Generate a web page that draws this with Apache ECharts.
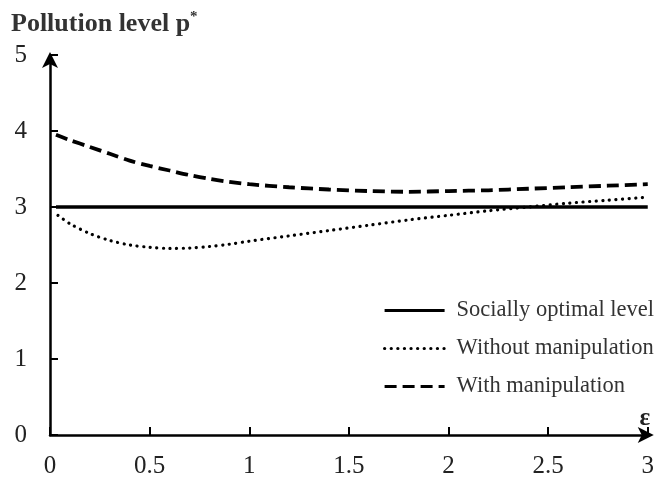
<!DOCTYPE html>
<html>
<head>
<meta charset="utf-8">
<script src="https://cdn.jsdelivr.net/npm/echarts@6/dist/echarts.min.js"></script>
<style>html,body{margin:0;padding:0;background:#fff}#c{width:657px;height:480px}</style>
</head>
<body>
<div id="c"></div>
<script>
var xOptimal = [0.03, 3];
var yOptimal = [3, 3];
var xWithout = [0.04, 0.1, 0.2, 0.3, 0.4, 0.5, 0.6, 0.7, 0.8, 0.9, 1.0, 1.2, 1.4, 1.6, 1.8, 2.0, 2.2, 2.4, 2.6, 2.8, 3.0];
var yWithout = [2.89, 2.78, 2.65, 2.56, 2.50, 2.47, 2.455, 2.46, 2.48, 2.51, 2.55, 2.62, 2.69, 2.76, 2.83, 2.89, 2.95, 3.00, 3.05, 3.09, 3.13];
var xWith = [0.03, 0.1, 0.2, 0.3, 0.4, 0.5, 0.6, 0.7, 0.8, 0.9, 1.0, 1.2, 1.4, 1.6, 1.8, 2.0, 2.2, 2.4, 2.6, 2.8, 3.0];
var yWith = [3.95, 3.88, 3.79, 3.70, 3.61, 3.54, 3.48, 3.42, 3.37, 3.33, 3.30, 3.26, 3.23, 3.21, 3.20, 3.21, 3.22, 3.24, 3.26, 3.28, 3.30];
var names = ['Socially optimal level', 'Without manipulation', 'With manipulation'];

function pairs(xs, ys) { return xs.map(function (x, i) { return [x, ys[i]]; }); }

var font = 'Liberation Serif, Times New Roman, serif';
var chart = echarts.init(document.getElementById('c'), null, {renderer: 'canvas'});
chart.setOption({
  animation: false,
  backgroundColor: '#fff',
  textStyle: {fontFamily: font},
  title: {
    text: 'Pollution level p{s|*}',
    left: 6, top: 5,
    textStyle: {
      fontFamily: font, fontWeight: 'bold', fontSize: 26, color: '#333',
      rich: {s: {fontFamily: font, fontWeight: 'bold', fontSize: 15, color: '#333', verticalAlign: 'top', padding: [0, 0, 14, 0]}}
    }
  },
  grid: {left: 50, right: 7, top: 55, bottom: 45, containLabel: false},
  legend: {
    orient: 'vertical', left: 378, top: 294,
    itemWidth: 60, itemHeight: 14, itemGap: 15,
    itemStyle: {opacity: 0},
    lineStyle: {width: 3.2},
    textStyle: {fontFamily: font, fontSize: 22.5, color: '#333', padding: [0, 0, 0, 7]},
    data: names
  },
  xAxis: {
    type: 'value', min: 0, max: 3, interval: 0.5,
    name: 'ε', nameLocation: 'end', nameGap: -3,
    nameTextStyle: {fontFamily: font, fontSize: 25, fontWeight: 'bold', color: '#222', align: 'center', verticalAlign: 'bottom', padding: [0, 0, 4, 0]},
    axisLine: {show: true, onZero: false, lineStyle: {color: '#000', width: 2.5}, symbol: ['none', 'arrow'], symbolSize: [12, 16], symbolOffset: [0, 6]},
    axisTick: {show: true, inside: true, length: 8, lineStyle: {color: '#000', width: 2}},
    axisLabel: {fontFamily: font, fontSize: 25, color: '#222', margin: 19},
    splitLine: {show: false}
  },
  yAxis: {
    type: 'value', min: 0, max: 5, interval: 1,
    axisLine: {show: true, onZero: false, lineStyle: {color: '#000', width: 2.5}, symbol: ['none', 'arrow'], symbolSize: [12, 16], symbolOffset: [0, 3]},
    axisTick: {show: true, inside: true, length: 8, lineStyle: {color: '#000', width: 2}},
    axisLabel: {fontFamily: font, fontSize: 25, color: '#222', margin: 23},
    splitLine: {show: false}
  },
  series: [
    {name: names[0], type: 'line', data: pairs(xOptimal, yOptimal), symbol: 'none', smooth: false,
     lineStyle: {color: '#000', width: 3.5, type: 'solid'}, itemStyle: {color: '#000'}},
    {name: names[1], type: 'line', data: pairs(xWithout, yWithout), symbol: 'none', smooth: 0.3,
     lineStyle: {color: '#000', width: 3.2, type: [0.1, 6.5], cap: 'round'}, itemStyle: {color: '#000'}},
    {name: names[2], type: 'line', data: pairs(xWith, yWith), symbol: 'none', smooth: 0.3,
     lineStyle: {color: '#000', width: 3.8, type: [12, 6], cap: 'butt'}, itemStyle: {color: '#000'}}
  ]
});
</script>
</body>
</html>
